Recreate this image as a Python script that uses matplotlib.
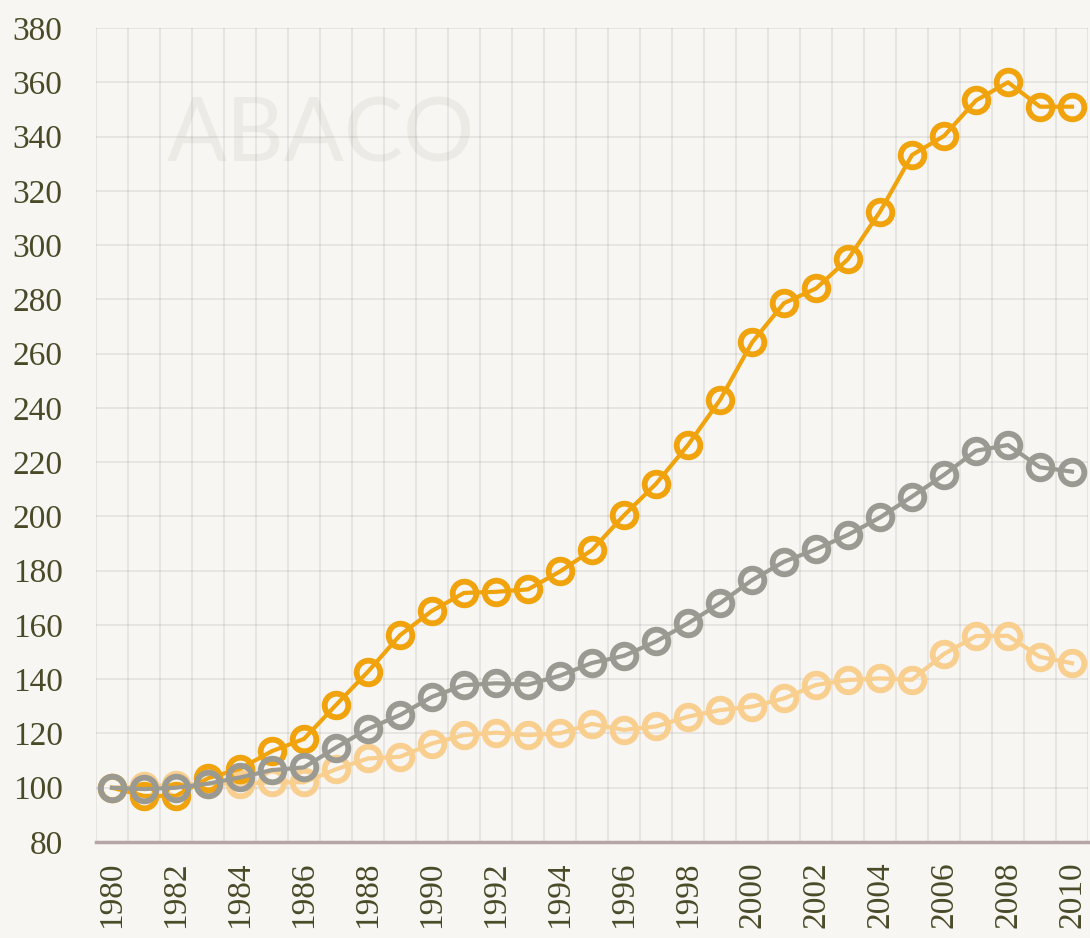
import numpy as np
import matplotlib.pyplot as plt
from matplotlib.ticker import MultipleLocator

years = list(range(1980, 2011))

# index 1980 = 100
orange = [100, 97, 97, 103.5, 107, 113.5, 118, 130.5, 142.8, 156.2, 165.2,
          171.8, 172.2, 173.1, 179.7, 187.6, 200.4, 212, 226.3, 242.9, 264.1,
          278.6, 284, 294.8, 312.3, 333.2, 340.2, 353.3, 360, 351, 351]
grey = [100, 99.5, 100, 101.5, 103.8, 106.5, 107.5, 114.8, 121.7, 126.8, 133.5,
        137.8, 138.5, 138, 141.3, 146, 148.6, 153.9, 160.6, 168, 176.5,
        183.3, 187.9, 193.2, 199.6, 207.3, 215.3, 224.2, 226.3, 218.1, 216.5]
light = [100, 100.5, 101, 101.5, 101.5, 102, 102, 106.8, 110.8, 111.4, 116.3,
         119.4, 120.3, 119.4, 120.1, 123.5, 121.3, 122.6, 126.2, 128.6, 129.9,
         132.9, 137.9, 139.7, 140.3, 139.8, 149.3, 155.9, 156, 148.2, 145.9]

bg = '#f7f6f2'
txt = '#4a4a28'

fig = plt.figure(figsize=(10.9, 9.38), dpi=100, facecolor=bg)
ax = fig.add_axes([96 / 1090, 96 / 938, 992 / 1090, 814 / 938])
ax.set_facecolor(bg)

# watermark
ax.text(0.2268, 0.867, 'ABACO', transform=ax.transAxes, ha='center', va='center',
        fontsize=64, color='#ebeae5', family='Lato', fontweight='normal', zorder=0)

style = dict(lw=3, marker='o', ms=17, mew=4.2, mfc='none')
ax.plot(years, light, color='#f8cf8e', zorder=3, **style)
ax.plot(years, orange, color='#f0a30c', zorder=4, **style)
ax.plot(years, grey, color='#9b9a92', zorder=5, **style)

ax.set_xlim(1979.5, 2010.5)
ax.set_ylim(80, 380)
ax.xaxis.set_major_locator(MultipleLocator(2))
ax.xaxis.set_minor_locator(MultipleLocator(1, offset=0.5))
ax.yaxis.set_major_locator(MultipleLocator(20))
ax.grid(False)
ax.grid(which='minor', axis='x', color='black', alpha=0.08, lw=1.2)
ax.grid(which='major', axis='y', color='black', alpha=0.08, lw=1.2)
ax.set_axisbelow(True)

for s in ['top', 'right', 'left']:
    ax.spines[s].set_visible(False)
ax.spines['bottom'].set_color('#b5a5a8')
ax.spines['bottom'].set_linewidth(2.5)

ax.tick_params(which='both', length=0)
ax.tick_params(axis='y', pad=24, labelsize=24, labelcolor=txt)
ax.tick_params(axis='x', pad=14, labelsize=24, labelcolor=txt, labelrotation=90)
for lab in ax.get_xticklabels() + ax.get_yticklabels():
    lab.set_family('Liberation Serif')

plt.savefig('out.png', dpi=100, facecolor=bg)
